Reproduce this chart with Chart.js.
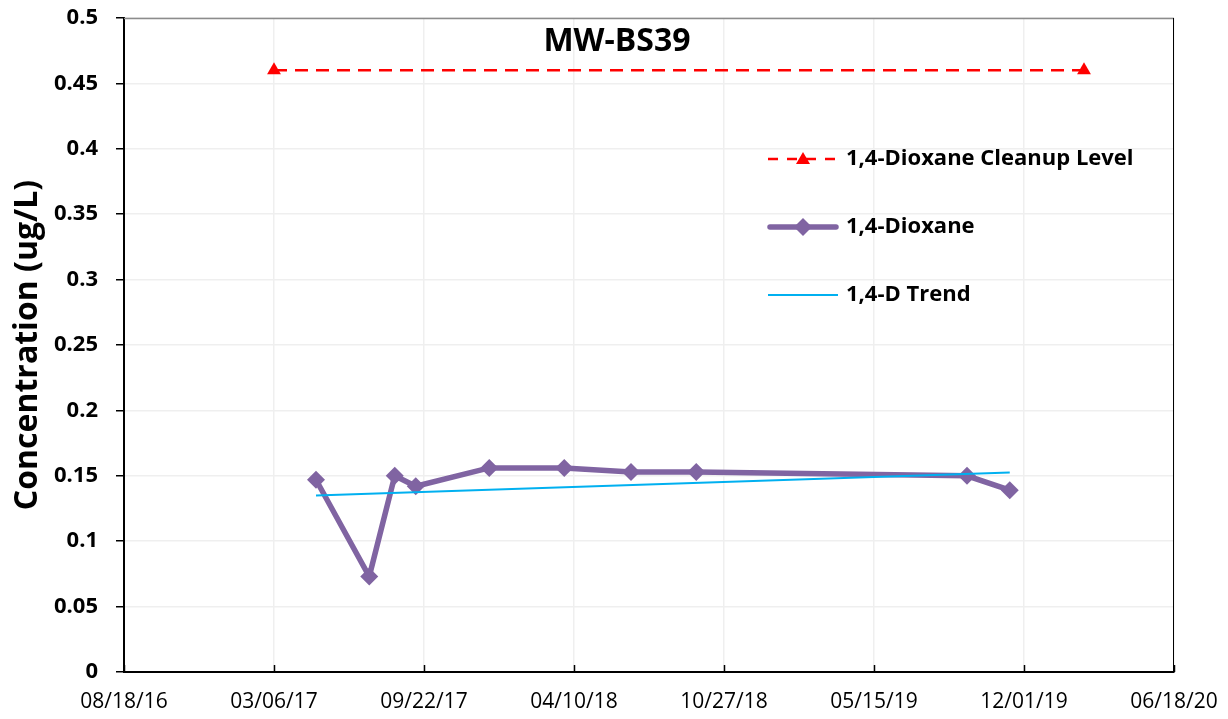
<!DOCTYPE html>
<html>
<head>
<meta charset="utf-8">
<title>MW-BS39</title>
<script src="https://cdn.jsdelivr.net/npm/chart.js@4/dist/chart.umd.min.js"></script>
<style>
  html, body { margin: 0; padding: 0; background: #fff; }
  #wrap { width: 1228px; height: 719px; }
</style>
</head>
<body>
<div id="wrap"><canvas id="chart" width="1228" height="719"></canvas></div>
<script>
// sample results
const sampleDates = ["2017-05-01", "2017-07-11", "2017-08-14", "2017-09-11", "2017-12-18",
  "2018-03-28", "2018-06-25", "2018-09-20", "2019-09-16", "2019-11-12"];
const dioxane = [0.147, 0.073, 0.150, 0.142, 0.156, 0.156, 0.153, 0.153, 0.150, 0.139];

// cleanup level line
const cleanupDates = ["2017-03-06", "2020-02-19"];
const cleanupLevel = [0.46, 0.46];

// linear trend endpoints
const trendDates = ["2017-05-01", "2019-11-12"];
const trendValues = [0.135, 0.1525];

// x axis: date serials, 200 days apart
const xTickLabels = ["08/18/16", "03/06/17", "09/22/17", "04/10/18", "10/27/18", "05/15/19", "12/01/19", "06/18/20"];
const xMin = "2016-08-18";
const xMax = "2020-06-18";
const xStep = 200;

const FONT = "'Open Sans', Lato, sans-serif";

function serial(s) {
  const [y, m, d] = s.split("-").map(Number);
  return Date.UTC(y, m - 1, d) / 86400000 + 25569;
}
function pts(dates, vals) {
  return dates.map((d, i) => ({ x: serial(d), y: vals[i] }));
}

const PURPLE = "#8064A2";
const RED = "#FF0000";
const BLUE = "#00B0F0";

// frame, inside x ticks, title and legend drawn over the plot
const overlay = {
  id: "overlay",
  afterDraw(chart) {
    const { ctx, chartArea: a, scales } = chart;
    ctx.save();
    // top and right frame
    ctx.strokeStyle = "#8c8c8c";
    ctx.lineWidth = 1.5;
    ctx.beginPath();
    ctx.moveTo(a.left, a.top + 0.5);
    ctx.lineTo(a.right, a.top + 0.5);
    ctx.stroke();
    ctx.strokeStyle = "#000";
    ctx.lineWidth = 1;
    ctx.beginPath();
    ctx.moveTo(a.right - 0.5, a.top);
    ctx.lineTo(a.right - 0.5, a.bottom);
    ctx.stroke();
    // x tick marks pointing up into the plot
    ctx.lineWidth = 1.5;
    scales.x.ticks.forEach(t => {
      const px = Math.round(scales.x.getPixelForValue(t.value)) + 0.5;
      ctx.beginPath();
      ctx.moveTo(px, a.bottom);
      ctx.lineTo(px, a.bottom - 7);
      ctx.stroke();
    });

    // title
    ctx.fillStyle = "#000";
    ctx.font = "bold 32px " + FONT;
    ctx.textAlign = "center";
    ctx.textBaseline = "middle";
    ctx.fillText("MW-BS39", 617, 42);

    // legend
    const lx = 768, lw = 70, tx = 846;
    const rows = [159, 227, 295];
    ctx.font = "bold 22px " + FONT;
    ctx.textAlign = "left";
    // cleanup level
    ctx.strokeStyle = RED;
    ctx.lineWidth = 2.5;
    ctx.setLineDash([10, 9]);
    ctx.beginPath();
    ctx.moveTo(lx, rows[0]);
    ctx.lineTo(lx + lw, rows[0]);
    ctx.stroke();
    ctx.setLineDash([]);
    ctx.fillStyle = RED;
    ctx.beginPath();
    ctx.moveTo(lx + lw / 2, rows[0] - 7);
    ctx.lineTo(lx + lw / 2 + 7, rows[0] + 5);
    ctx.lineTo(lx + lw / 2 - 7, rows[0] + 5);
    ctx.closePath();
    ctx.fill();
    ctx.fillStyle = "#000";
    ctx.fillText("1,4-Dioxane Cleanup Level", tx, rows[0]);
    // dioxane
    ctx.strokeStyle = PURPLE;
    ctx.lineWidth = 5.5;
    ctx.lineCap = "round";
    ctx.beginPath();
    ctx.moveTo(lx + 2, rows[1]);
    ctx.lineTo(lx + lw - 2, rows[1]);
    ctx.stroke();
    ctx.lineCap = "butt";
    ctx.fillStyle = PURPLE;
    ctx.beginPath();
    ctx.moveTo(lx + lw / 2, rows[1] - 9);
    ctx.lineTo(lx + lw / 2 + 9, rows[1]);
    ctx.lineTo(lx + lw / 2, rows[1] + 9);
    ctx.lineTo(lx + lw / 2 - 9, rows[1]);
    ctx.closePath();
    ctx.fill();
    ctx.fillStyle = "#000";
    ctx.fillText("1,4-Dioxane", tx, rows[1]);
    // trend
    ctx.strokeStyle = BLUE;
    ctx.lineWidth = 2;
    ctx.beginPath();
    ctx.moveTo(lx, rows[2]);
    ctx.lineTo(lx + lw, rows[2]);
    ctx.stroke();
    ctx.fillText("1,4-D Trend", tx, rows[2]);
    ctx.restore();
  }
};

new Chart(document.getElementById("chart"), {
  type: "line",
  data: {
    datasets: [
      {
        label: "1,4-Dioxane Cleanup Level",
        data: pts(cleanupDates, cleanupLevel),
        borderColor: RED,
        backgroundColor: RED,
        borderWidth: 2.5,
        borderDash: [13, 8],
        pointStyle: "triangle",
        pointRadius: 8,
        pointBorderWidth: 0,
        order: 3
      },
      {
        label: "1,4-Dioxane",
        data: pts(sampleDates, dioxane),
        borderColor: PURPLE,
        backgroundColor: PURPLE,
        borderWidth: 5.5,
        pointStyle: "rectRot",
        pointRadius: 9,
        pointBorderWidth: 0,
        order: 2
      },
      {
        label: "1,4-D Trend",
        data: pts(trendDates, trendValues),
        borderColor: BLUE,
        borderWidth: 2,
        pointRadius: 0,
        order: 1
      }
    ]
  },
  options: {
    responsive: false,
    animation: false,
    layout: { padding: { top: 18, right: 54, left: 0, bottom: 0 } },
    plugins: {
      legend: { display: false },
      tooltip: { enabled: false }
    },
    scales: {
      x: {
        type: "linear",
        min: serial(xMin),
        max: serial(xMax),
        afterBuildTicks(scale) {
          const ticks = [];
          for (let v = serial(xMin); v <= serial(xMax); v += xStep) ticks.push({ value: v });
          scale.ticks = ticks;
        },
        afterFit(scale) {
          scale.height = 47;
          scale.paddingLeft = 0;
          scale.paddingRight = 0;
        },
        grid: { color: "#efefef", lineWidth: 1.5, drawTicks: false },
        border: { color: "#000", width: 2 },
        ticks: {
          color: "#000",
          padding: 17,
          maxRotation: 0,
          font: { family: FONT, size: 21 },
          callback: (v, i) => xTickLabels[i]
        }
      },
      y: {
        min: 0,
        max: 0.5,
        afterFit(scale) {
          scale.width = 124;
          scale.paddingTop = 0;
          scale.paddingBottom = 0;
        },
        grid: { color: "#efefef", lineWidth: 1.5, tickLength: 8, tickColor: "#000" },
        border: { color: "#000", width: 2 },
        ticks: {
          stepSize: 0.05,
          color: "#000",
          padding: 18,
          font: { family: FONT, size: 22, weight: "bold" },
          callback: v => +v.toFixed(2)
        },
        title: {
          display: true,
          text: "Concentration (ug/L)",
          color: "#000",
          padding: { top: 9, bottom: 0 },
          font: { family: FONT, size: 32, weight: "bold" }
        }
      }
    }
  },
  plugins: [overlay]
});
</script>
</body>
</html>
